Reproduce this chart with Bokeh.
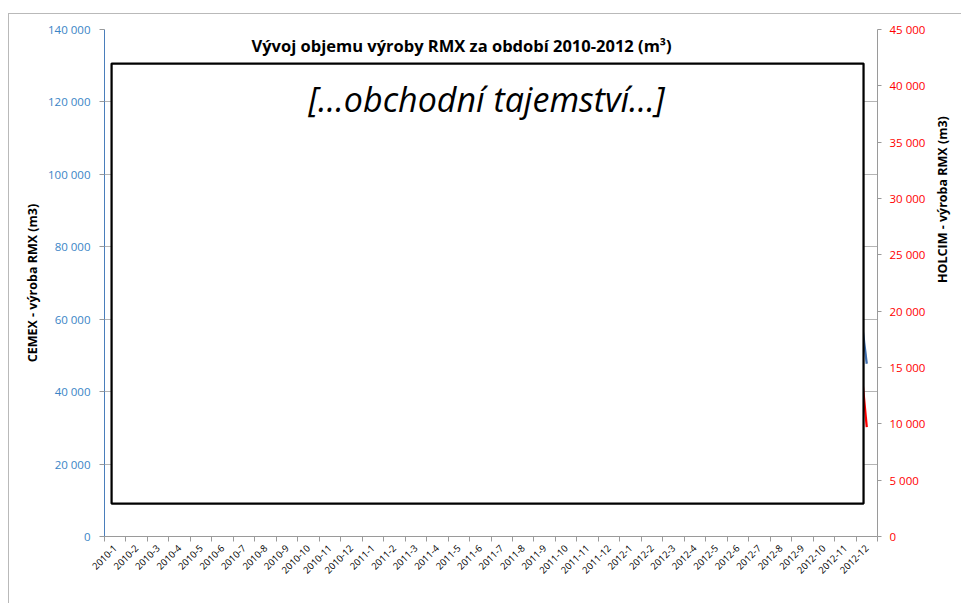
import numpy as np
from bokeh.plotting import figure
from bokeh.models import Range1d, LinearAxis, FixedTicker, BoxAnnotation, Label
from bokeh.embed import file_html
from bokeh.resources import INLINE

# ---------------- data ----------------
months = ["2010-1", "2010-2", "2010-3", "2010-4", "2010-5", "2010-6",
          "2010-7", "2010-8", "2010-9", "2010-10", "2010-11", "2010-12",
          "2011-1", "2011-2", "2011-3", "2011-4", "2011-5", "2011-6",
          "2011-7", "2011-8", "2011-9", "2011-10", "2011-11", "2011-12",
          "2012-1", "2012-2", "2012-3", "2012-4", "2012-5", "2012-6",
          "2012-7", "2012-8", "2012-9", "2012-10", "2012-11", "2012-12"]

H = np.nan  # value hidden in the source ("obchodní tajemství")
cemex = [H, H, H, H, H, H, H, H, H, H, H, H,
         H, H, H, H, H, H, H, H, H, H, H, H,
         H, H, H, H, H, H, H, H, H, H, 97000, 47700]
holcim = [H, H, H, H, H, H, H, H, H, H, H, H,
          H, H, H, H, H, H, H, H, H, H, H, H,
          H, H, H, H, H, H, H, H, H, H, 30000, 9700]

left_ticks = [0, 20000, 40000, 60000, 80000, 100000, 120000, 140000]
left_tick_labels = ["0", "20 000", "40 000", "60 000", "80 000",
                    "100 000", "120 000", "140 000"]
right_ticks = [0, 5000, 10000, 15000, 20000, 25000, 30000, 35000, 40000, 45000]
right_tick_labels = ["0", "5 000", "10 000", "15 000", "20 000", "25 000",
                     "30 000", "35 000", "40 000", "45 000"]

title_text = "Vývoj objemu výroby RMX za období 2010-2012 (m³)"
secret_text = "[…obchodní tajemství…]"
left_axis_title = "CEMEX - výroba RMX (m3)"
right_axis_title = "HOLCIM - výroba RMX (m3)"

# ---------------- styles ----------------
FONT = "Open Sans"
BLUE_TXT = "#3a84c6"
BLUE_AXIS = "#4a7ebb"
BLUE_LINE = "#3f6fae"
RED = "#ff0000"
GRID = "#b5b5b5"
AXIS_GRAY = "#9a9a9a"

n = len(months)
centers = np.arange(n) + 0.5
bounds = np.arange(n + 1)

p = figure(width=953, height=590,
           x_range=Range1d(0, n), y_range=Range1d(0, 140000),
           output_backend="svg", toolbar_location=None,
           min_border_left=95, min_border_right=85,
           min_border_top=15, min_border_bottom=68)
p.extra_y_ranges = {"holcim": Range1d(0, 45000)}
p.outline_line_color = None
p.background_fill_color = "white"
p.border_fill_color = "white"
p.styles = {"border-top": "1px solid #b9b9b9",
            "border-left": "1px solid #b9b9b9",
            "margin-top": "13px",
            "margin-left": "8px"}

# left axis
yax = p.yaxis[0]
lt = FixedTicker(ticks=left_ticks, minor_ticks=[])
yax.ticker = lt
yax.major_label_overrides = dict(zip(left_ticks, left_tick_labels))
yax.axis_line_color = BLUE_AXIS
yax.major_tick_line_color = AXIS_GRAY
yax.major_tick_out = 5
yax.major_tick_in = 0
yax.minor_tick_line_color = None
yax.major_label_text_color = BLUE_TXT
yax.major_label_text_font = FONT
yax.major_label_text_font_size = "11.5px"
yax.major_label_standoff = 9
yax.axis_label = left_axis_title
yax.axis_label_text_font = FONT
yax.axis_label_text_font_style = "bold"
yax.axis_label_text_font_size = "12.5px"
yax.axis_label_text_color = "black"
yax.axis_label_standoff = 4
p.ygrid.ticker = lt
p.ygrid.grid_line_color = GRID
p.xgrid.visible = False

# bottom axis
xax = p.xaxis[0]
xax.ticker = FixedTicker(ticks=list(centers), minor_ticks=list(bounds))
xax.major_label_overrides = {float(c): m for c, m in zip(centers, months)}
xax.major_tick_line_color = None
xax.minor_tick_line_color = AXIS_GRAY
xax.minor_tick_out = 5
xax.minor_tick_in = 0
xax.axis_line_color = AXIS_GRAY
xax.major_label_orientation = np.pi / 4
xax.major_label_text_font = FONT
xax.major_label_text_font_size = "9.5px"
xax.major_label_text_color = "black"
xax.major_label_standoff = 4

# right axis
rax = LinearAxis(y_range_name="holcim",
                 ticker=FixedTicker(ticks=right_ticks, minor_ticks=[]))
rax.major_label_overrides = dict(zip(right_ticks, right_tick_labels))
rax.axis_line_color = AXIS_GRAY
rax.major_tick_line_color = AXIS_GRAY
rax.major_tick_out = 4
rax.major_tick_in = 0
rax.minor_tick_line_color = None
rax.major_label_text_color = RED
rax.major_label_text_font = FONT
rax.major_label_text_font_size = "11.5px"
rax.major_label_standoff = 8
rax.axis_label = right_axis_title
rax.axis_label_orientation = np.pi / 2   # read bottom-to-top, as in the source
rax.axis_label_text_font = FONT
rax.axis_label_text_font_style = "bold"
rax.axis_label_text_font_size = "12.5px"
rax.axis_label_text_color = "black"
rax.axis_label_standoff = 14
p.add_layout(rax, "right")

# series
p.line(centers, cemex, line_color=BLUE_LINE, line_width=2.25)
p.line(centers, holcim, line_color=RED, line_width=2.25, y_range_name="holcim")

# confidential box covering the data
box = BoxAnnotation(left=0.33, right=35.35, bottom=9100, top=130600,
                    fill_color="white", fill_alpha=1.0,
                    line_color="black", line_alpha=1.0, line_width=2.25)
p.add_layout(box)

p.add_layout(Label(x=16.63, y=135600, text=title_text,
                   text_align="center", text_baseline="middle",
                   text_font=FONT, text_font_style="bold",
                   text_font_size="16.5px", text_color="black"))
p.add_layout(Label(x=17.79, y=120700, text=secret_text,
                   text_align="center", text_baseline="middle",
                   text_font=FONT, text_font_style="italic",
                   text_font_size="34px", text_color="black"))

open("out.html", "w").write(file_html(p, INLINE))
